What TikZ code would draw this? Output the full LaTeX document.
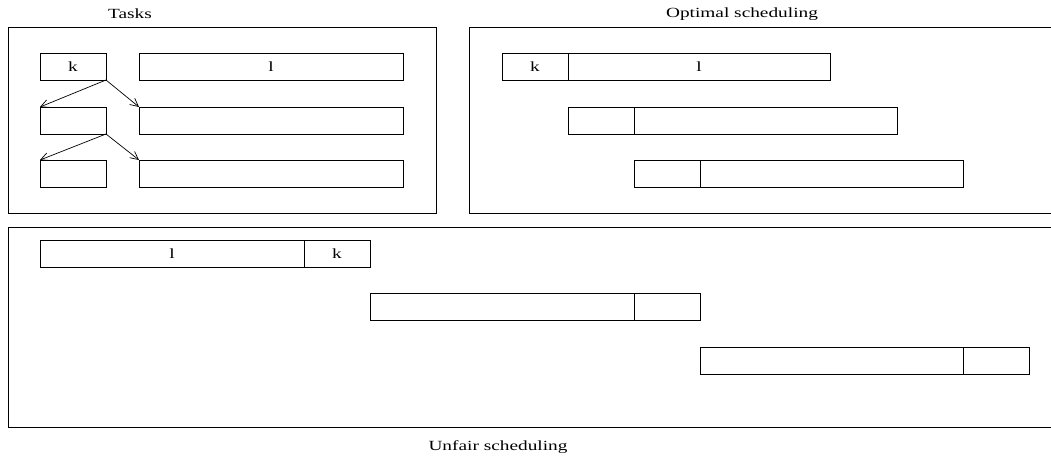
\documentclass[tikz,border=0pt]{standalone}
\usepackage{fontspec}
\setmainfont{Liberation Serif}
\usetikzlibrary{arrows.meta}
\tikzset{
  box/.style={draw, line width=0.9pt, anchor=north west, inner sep=0pt, outer sep=0pt,
              minimum height=27pt, font=\fontsize{14}{16}\selectfont},
  frame/.style={draw, line width=0.9pt, anchor=north west, inner sep=0pt, outer sep=0pt},
  lab/.style={font=\fontsize{14}{16}\selectfont, inner sep=0pt},
  dep/.style={line width=0.7pt, -{Straight Barb[length=8pt,width=8pt]}}
}
\newcommand{\wide}[1]{\scalebox{1.38}[1]{#1}}
\begin{document}
\begin{tikzpicture}[x=1pt,y=-1pt]
\useasboundingbox (0,0) rectangle (1051,462);
\clip (0,0) rectangle (1051,462);
% frames
\node[frame, minimum width=428pt, minimum height=186pt] (ftasks) at (8,27) {};
\node[frame, minimum width=600pt, minimum height=186pt] (fopt) at (469,27) {};
\node[frame, minimum width=1060pt, minimum height=200pt] (funf) at (8,227) {};
% labels
\node[lab] (ltasks) at (130,14) {\wide{Tasks}};
\node[lab] (lopt) at (742,14) {\wide{Optimal scheduling}};
\node[lab] (lunf) at (498,447) {\wide{Unfair scheduling}};
% tasks
\node[box, minimum width=66pt] (k1) at (40,53) {\wide{k}};
\node[box, minimum width=264pt] (l1) at (139,53) {\wide{l}};
\node[box, minimum width=66pt] (k2) at (40,107) {};
\node[box, minimum width=264pt] (l2) at (139,107) {};
\node[box, minimum width=66pt] (k3) at (40,160) {};
\node[box, minimum width=264pt] (l3) at (139,160) {};
\draw[dep] (k1.south east) -- (k2.north west);
\draw[dep] (k1.south east) -- (l2.north west);
\draw[dep] (k2.south east) -- (k3.north west);
\draw[dep] (k2.south east) -- (l3.north west);
% optimal
\node[box, minimum width=66pt] (ok1) at (502,53) {\wide{k}};
\node[box, minimum width=262pt] (ol1) at (568,53) {\wide{l}};
\node[box, minimum width=66pt] (ok2) at (568,107) {};
\node[box, minimum width=263pt] (ol2) at (634,107) {};
\node[box, minimum width=66pt] (ok3) at (634,160) {};
\node[box, minimum width=263pt] (ol3) at (700,160) {};
% unfair
\node[box, minimum width=264pt] (ul1) at (40,240) {\wide{l}};
\node[box, minimum width=66pt] (uk1) at (304,240) {\wide{k}};
\node[box, minimum width=264pt] (ul2) at (370,293) {};
\node[box, minimum width=66pt] (uk2) at (634,293) {};
\node[box, minimum width=263pt] (ul3) at (700,347) {};
\node[box, minimum width=66pt] (uk3) at (963,347) {};
\end{tikzpicture}
\end{document}
